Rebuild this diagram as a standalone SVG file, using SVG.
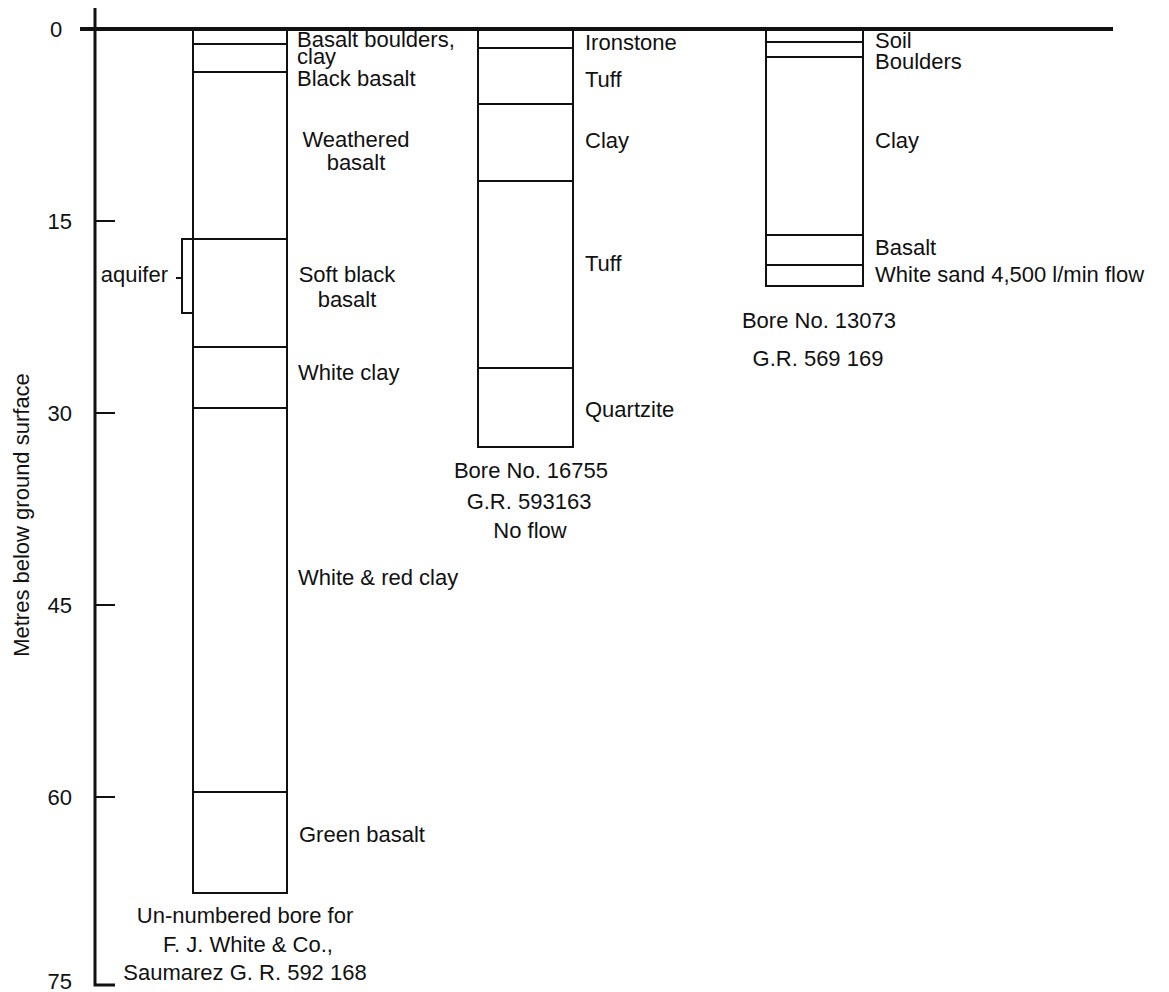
<svg xmlns="http://www.w3.org/2000/svg" width="1169" height="992" viewBox="0 0 1169 992">
<style>
text{font-family:"Liberation Sans",Arial,sans-serif;font-size:22px;fill:#111}
.c{text-anchor:middle}
.e{text-anchor:end}
.box{fill:#fff;stroke:#111;stroke-width:2}
.ln{stroke:#111;stroke-width:2;fill:none}
.ax{stroke:#111;stroke-width:3;fill:none}
</style>
<rect width="1169" height="992" fill="#fff"/>
<g id="axis">
<path class="ax" d="M95 8 V985 H115"/>
<path class="ln" d="M95 221 H115 M95 413 H115 M95 605 H115 M95 797 H115"/>
<text x="50" y="37">0</text>
<text x="72" y="229" class="e">15</text>
<text x="72" y="421" class="e">30</text>
<text x="72" y="613" class="e">45</text>
<text x="72" y="805" class="e">60</text>
<text x="72" y="989" class="e">75</text>
<text class="c" transform="translate(29 515) rotate(-90)">Metres below ground surface</text>
</g>
<g id="bore1">
<rect class="box" x="193" y="29" width="94" height="864"/>
<path class="ln" d="M193 44 H287 M193 72 H287 M193 239 H287 M193 347 H287 M193 408 H287 M193 792 H287"/>
<text x="297" y="47">Basalt boulders,</text>
<text x="297" y="64">clay</text>
<text x="297" y="86">Black basalt</text>
<text x="356" y="147" class="c">Weathered</text>
<text x="356" y="170" class="c">basalt</text>
<text x="347" y="282" class="c">Soft black</text>
<text x="347" y="307" class="c">basalt</text>
<text x="298" y="380">White clay</text>
<text x="298" y="585">White &amp; red clay</text>
<text x="299" y="842">Green basalt</text>
<text x="245" y="923" class="c">Un-numbered bore for</text>
<text x="248" y="952" class="c">F. J. White &amp; Co.,</text>
<text x="245" y="980" class="c">Saumarez G. R. 592 168</text>
</g>
<g id="aquifer">
<path class="ln" d="M193 239 H182 V313 H193 M182 278 H176"/>
<text x="168" y="282" class="e">aquifer</text>
</g>
<g id="bore2">
<rect class="box" x="478" y="29" width="95" height="418"/>
<path class="ln" d="M478 48 H573 M478 104 H573 M478 181 H573 M478 368 H573"/>
<text x="585" y="50">Ironstone</text>
<text x="585" y="87">Tuff</text>
<text x="585" y="148">Clay</text>
<text x="585" y="271">Tuff</text>
<text x="585" y="417">Quartzite</text>
<text x="531" y="478" class="c">Bore No. 16755</text>
<text x="529" y="509" class="c">G.R. 593163</text>
<text x="530" y="538" class="c">No flow</text>
</g>
<g id="bore3">
<rect class="box" x="766" y="29" width="97" height="257"/>
<path class="ln" d="M766 42 H863 M766 57 H863 M766 235 H863 M766 265 H863"/>
<text x="875" y="48">Soil</text>
<text x="875" y="69">Boulders</text>
<text x="875" y="148">Clay</text>
<text x="875" y="255">Basalt</text>
<text x="875" y="282">White sand 4,500 l/min flow</text>
<text x="819" y="328" class="c">Bore No. 13073</text>
<text x="818" y="366" class="c">G.R. 569 169</text>
</g>
<g id="connectors">
<path d="M80 29 H1113" stroke="#111" stroke-width="4" fill="none"/>
</g>
</svg>
